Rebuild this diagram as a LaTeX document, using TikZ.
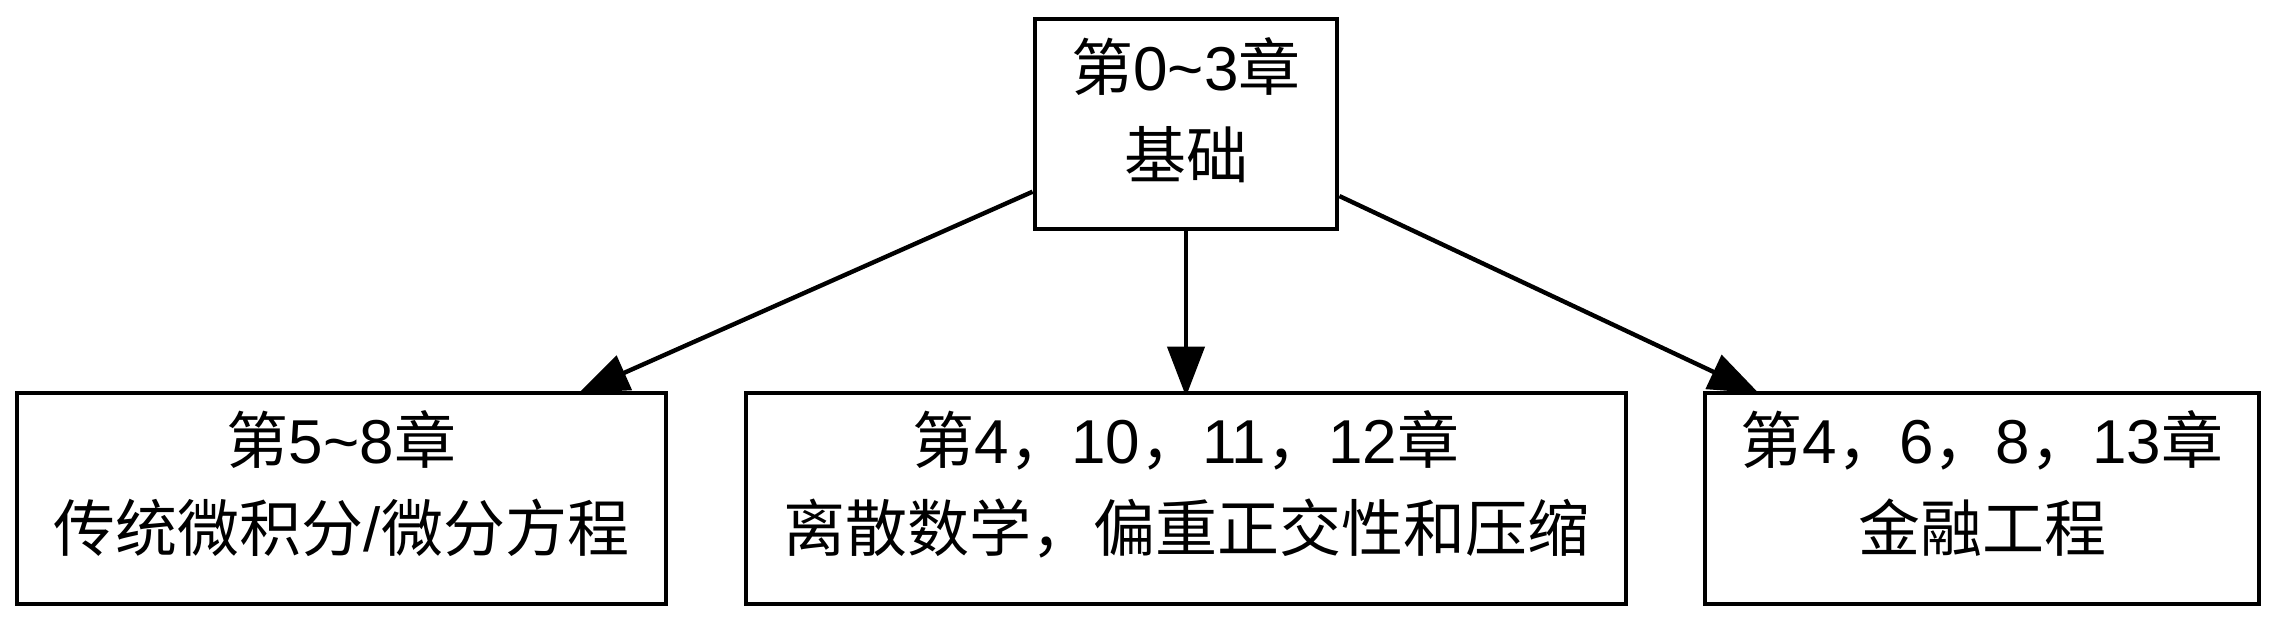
\documentclass[tikz,border=0pt]{standalone}
\usepackage{fontspec}
\setmainfont{Noto Sans CJK SC}
\newfontfamily\latf{Liberation Sans}
\newcommand\lt[1]{{\latf #1}}
\usetikzlibrary{arrows.meta,backgrounds}
\begin{document}
\begin{tikzpicture}[x=0.5pt,y=-0.5pt,
  box/.style={draw=black, line width=2.4pt, fill=white, rectangle, inner sep=0pt, minimum height=105.5pt},
  lbl/.style={align=center, inner sep=0pt, font=\fontsize{31pt}{44pt}\selectfont},
  edge/.style={line width=2.2pt, shorten >=-3pt, -{Triangle[length=25pt,width=18.5pt]}}]
\useasboundingbox (0,0) rectangle (2277,624);
\node[box, minimum width=151pt, minimum height=105pt] (top) at (1186,124) {};
\node[lbl] (topT) at (1186,110.5) {第\lt{0\textasciitilde 3}章\\基础};
\node[box, minimum width=324.5pt] (left) at (341.5,498.5) {};
\node[lbl] (leftT) at (341.5,484) {第\lt{5\textasciitilde 8}章\\传统微积分\lt{/}微分方程};
\node[box, minimum width=440pt] (mid) at (1186,498.5) {};
\node[lbl] (midT) at (1186,484) {第\lt{4}，\lt{10}，\lt{11}，\lt{12}章\\离散数学，偏重正交性和压缩};
\node[box, minimum width=277pt] (right) at (1982,498.5) {};
\node[lbl] (rightT) at (1982,484) {第\lt{4}，\lt{6}，\lt{8}，\lt{13}章\\金融工程};
\begin{scope}[on background layer]
\draw[edge] (top) -- (left);
\draw[edge] (top) -- (mid);
\draw[edge] (top) -- (right);
\end{scope}
\end{tikzpicture}
\end{document}
